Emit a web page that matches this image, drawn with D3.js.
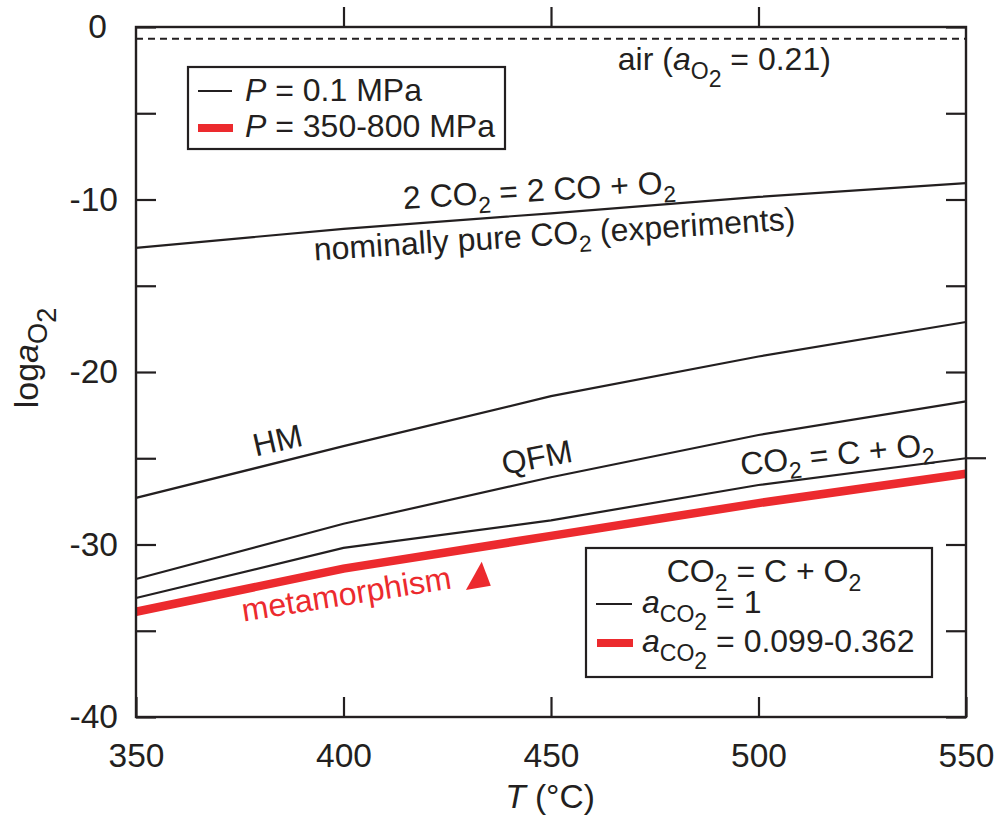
<!DOCTYPE html>
<html>
<head>
<meta charset="utf-8">
<script src="https://cdn.jsdelivr.net/npm/d3@7"></script>
<style>
  body { margin: 0; background: #fff; }
  text { font-family: "Liberation Sans", Arial, Helvetica, sans-serif; fill: #231f20; }
</style>
</head>
<body>
<div class="chart"></div>
<script>
// temperatures (deg C) where the curves were read
var temps = [350, 400, 450, 500, 550];

// log aO2 curves
var co2coLine = [-12.8, -11.7, -10.8, -9.85, -9.05];   // 2 CO2 = 2 CO + O2
var hmLine = [-27.3, -24.3, -21.4, -19.1, -17.1];      // HM buffer
var qfmLine = [-32.0, -28.8, -26.1, -23.65, -21.7];    // QFM buffer
var co2cLine = [-33.1, -30.2, -28.6, -26.55, -25.0];   // CO2 = C + O2, aCO2 = 1
var metaLine = [-33.9, -31.4, -29.5, -27.6, -25.9];    // CO2 = C + O2, aCO2 = 0.099-0.362
var airLevel = -0.68;                                  // log 0.21

var xTicks = [350, 400, 450, 500, 550];
var yTicks = [0, -5, -10, -15, -20, -25, -30, -35, -40];
var yLabels = [0, -10, -20, -30, -40];

var RED = "#ec2a2e";
var INK = "#231f20";
var FS = 32;

var svgWidth = 997, svgHeight = 821;
var margin = { top: 27, right: 31, bottom: 104, left: 136 };
var width = svgWidth - margin.left - margin.right;
var height = svgHeight - margin.top - margin.bottom;

var svg = d3.select(".chart")
    .append("svg")
    .attr("width", svgWidth)
    .attr("height", svgHeight);

var chartGroup = svg.append("g")
    .attr("transform", `translate(${margin.left}, ${margin.top})`);

var xScale = d3.scaleLinear().domain([350, 550]).range([0, width]);
var yScale = d3.scaleLinear().domain([-40, 0]).range([height, 0]);

// writes text with sub / sub-sub scripts as tspans
function rich(sel, parts, size, ratio) {
    ratio = ratio || 0.72;
    var shift = 0;
    parts.forEach(function (p) {
        var lvl = p.sub || 0;
        var target = lvl * size * 0.27;
        var ts = sel.append("tspan").text(p.t).attr("dy", target - shift);
        if (lvl) ts.attr("font-size", size * ratio);
        if (p.it) ts.attr("font-style", "italic");
        shift = target;
    });
    return sel;
}

// axes
var leftAxis = d3.axisLeft(yScale).tickValues(yTicks).tickSize(-20).tickPadding(18)
    .tickFormat(d => yLabels.indexOf(d) >= 0 ? d : "");
var rightAxis = d3.axisRight(yScale).tickValues(yTicks.filter(d => d != -25)).tickSize(-20).tickFormat("");
var bottomAxis = d3.axisBottom(xScale).tickValues(xTicks).tickSize(-20).tickPadding(26);
var topAxis = d3.axisTop(xScale).tickValues([400, 450, 500]).tickSize(20).tickFormat("");

function styleAxis(g) {
    g.select(".domain").remove();
    g.selectAll(".tick line").attr("stroke", INK).attr("stroke-width", 2.2);
    g.selectAll(".tick text").attr("font-size", 33.5).style("font-family", "Liberation Sans, Arial, sans-serif").attr("fill", INK);
}

chartGroup.append("g").call(leftAxis).call(styleAxis)
    .selectAll(".tick text").filter(d => d === 0).attr("x", -29);
chartGroup.append("g").attr("transform", `translate(${width}, 0)`).call(rightAxis).call(styleAxis);
chartGroup.append("g").attr("transform", `translate(0, ${height})`).call(bottomAxis).call(styleAxis);
chartGroup.append("g").call(topAxis).call(styleAxis);

// the -25 tick on the right sits outside the frame
chartGroup.append("line")
    .attr("x1", width).attr("x2", width + 20)
    .attr("y1", yScale(-25)).attr("y2", yScale(-25))
    .attr("stroke", INK).attr("stroke-width", 2.2);

// air line
chartGroup.append("line")
    .attr("x1", 0).attr("x2", width)
    .attr("y1", yScale(airLevel)).attr("y2", yScale(airLevel))
    .attr("stroke", INK).attr("stroke-width", 2).attr("stroke-dasharray", "7,5");

// curves
var line = d3.line()
    .x((d, i) => xScale(temps[i]))
    .y(d => yScale(d));

[co2coLine, hmLine, qfmLine, co2cLine].forEach(function (s) {
    chartGroup.append("path")
        .attr("d", line(s))
        .attr("fill", "none")
        .attr("stroke", INK)
        .attr("stroke-width", 2.2);
});

chartGroup.append("path")
    .attr("d", line(metaLine))
    .attr("fill", "none")
    .attr("stroke", RED)
    .attr("stroke-width", 8.5);

// frame
chartGroup.append("rect")
    .attr("width", width).attr("height", height)
    .attr("fill", "none").attr("stroke", INK).attr("stroke-width", 2.4);

// labels on the curves
var notes = [
    { T: 447.3, v: -10.09, a: -3.3, anchor: "middle", parts: [{ t: "2 CO" }, { t: "2", sub: 1 }, { t: " = 2 CO + O" }, { t: "2", sub: 1 }] },
    { T: 451.0, v: -12.64, a: -3.7, anchor: "middle", parts: [{ t: "nominally pure CO" }, { t: "2", sub: 1 }, { t: " (experiments)" }] },
    { T: 466.1, v: -2.49, a: 0, anchor: "start", parts: [{ t: "air (" }, { t: "a", it: true }, { t: "O", sub: 1 }, { t: "2", sub: 2 }, { t: " = 0.21)" }] },
    { T: 384.7, v: -24.58, a: -13, anchor: "middle", parts: [{ t: "HM" }] },
    { T: 447.1, v: -25.57, a: -11, anchor: "middle", parts: [{ t: "QFM" }] },
    { T: 519.2, v: -25.39, a: -6, anchor: "middle", parts: [{ t: "CO" }, { t: "2", sub: 1 }, { t: " = C + O" }, { t: "2", sub: 1 }] }
];

notes.forEach(function (n) {
    var x = xScale(n.T), y = yScale(n.v);
    var t = chartGroup.append("text")
        .attr("transform", `translate(${x}, ${y}) rotate(${n.a})`)
        .attr("text-anchor", n.anchor)
        .attr("font-size", FS);
    rich(t, n.parts, FS);
});

chartGroup.append("text")
    .attr("transform", `translate(${xScale(401.1)}, ${yScale(-33.5)}) rotate(-9)`)
    .attr("text-anchor", "middle")
    .attr("font-size", FS)
    .style("fill", RED)
    .text("metamorphism");

var arrow = [[433.3, -31.0], [429.5, -32.64], [435.5, -32.39]];
chartGroup.append("path")
    .attr("d", "M" + arrow.map(p => [xScale(p[0]), yScale(p[1])].join(",")).join("L") + "Z")
    .attr("fill", RED);

// legend: pressure
var leg1 = svg.append("g");
leg1.append("rect").attr("x", 188).attr("y", 67).attr("width", 317).attr("height", 82)
    .attr("fill", "#fff").attr("stroke", INK).attr("stroke-width", 2.2);
leg1.append("line").attr("x1", 198).attr("x2", 232).attr("y1", 91).attr("y2", 91)
    .attr("stroke", INK).attr("stroke-width", 2.2);
leg1.append("line").attr("x1", 198).attr("x2", 233).attr("y1", 128).attr("y2", 128)
    .attr("stroke", RED).attr("stroke-width", 8);
rich(leg1.append("text").attr("x", 245).attr("y", 101).attr("font-size", FS),
    [{ t: "P", it: true }, { t: " = 0.1 MPa" }], FS);
rich(leg1.append("text").attr("x", 245).attr("y", 137).attr("font-size", FS),
    [{ t: "P", it: true }, { t: " = 350-800 MPa" }], FS);

// legend: CO2 activity
var leg2 = svg.append("g");
leg2.append("rect").attr("x", 586).attr("y", 548).attr("width", 346).attr("height", 129)
    .attr("fill", "#fff").attr("stroke", INK).attr("stroke-width", 2.2);
rich(leg2.append("text").attr("x", 764).attr("y", 582).attr("font-size", FS).attr("text-anchor", "middle"),
    [{ t: "CO" }, { t: "2", sub: 1 }, { t: " = C + O" }, { t: "2", sub: 1 }], FS);
leg2.append("line").attr("x1", 596).attr("x2", 632).attr("y1", 604).attr("y2", 604)
    .attr("stroke", INK).attr("stroke-width", 2.2);
leg2.append("line").attr("x1", 597).attr("x2", 633).attr("y1", 643).attr("y2", 643)
    .attr("stroke", RED).attr("stroke-width", 8);
rich(leg2.append("text").attr("x", 642).attr("y", 613).attr("font-size", FS),
    [{ t: "a", it: true }, { t: "CO", sub: 1 }, { t: "2", sub: 2 }, { t: " = 1" }], FS);
rich(leg2.append("text").attr("x", 642).attr("y", 652).attr("font-size", FS),
    [{ t: "a", it: true }, { t: "CO", sub: 1 }, { t: "2", sub: 2 }, { t: " = 0.099-0.362" }], FS);

// axis titles
rich(svg.append("text").attr("x", 550).attr("y", 808).attr("text-anchor", "middle").attr("font-size", 33.5),
    [{ t: "T", it: true }, { t: " (°C)" }], 33.5);

rich(svg.append("text").attr("transform", "translate(38, 358) rotate(-90)")
        .attr("text-anchor", "middle").attr("font-size", 34),
    [{ t: "log" }, { t: "a", it: true }, { t: "O", sub: 1 }, { t: "2", sub: 2 }], 34, 0.8);
</script>
</body>
</html>
